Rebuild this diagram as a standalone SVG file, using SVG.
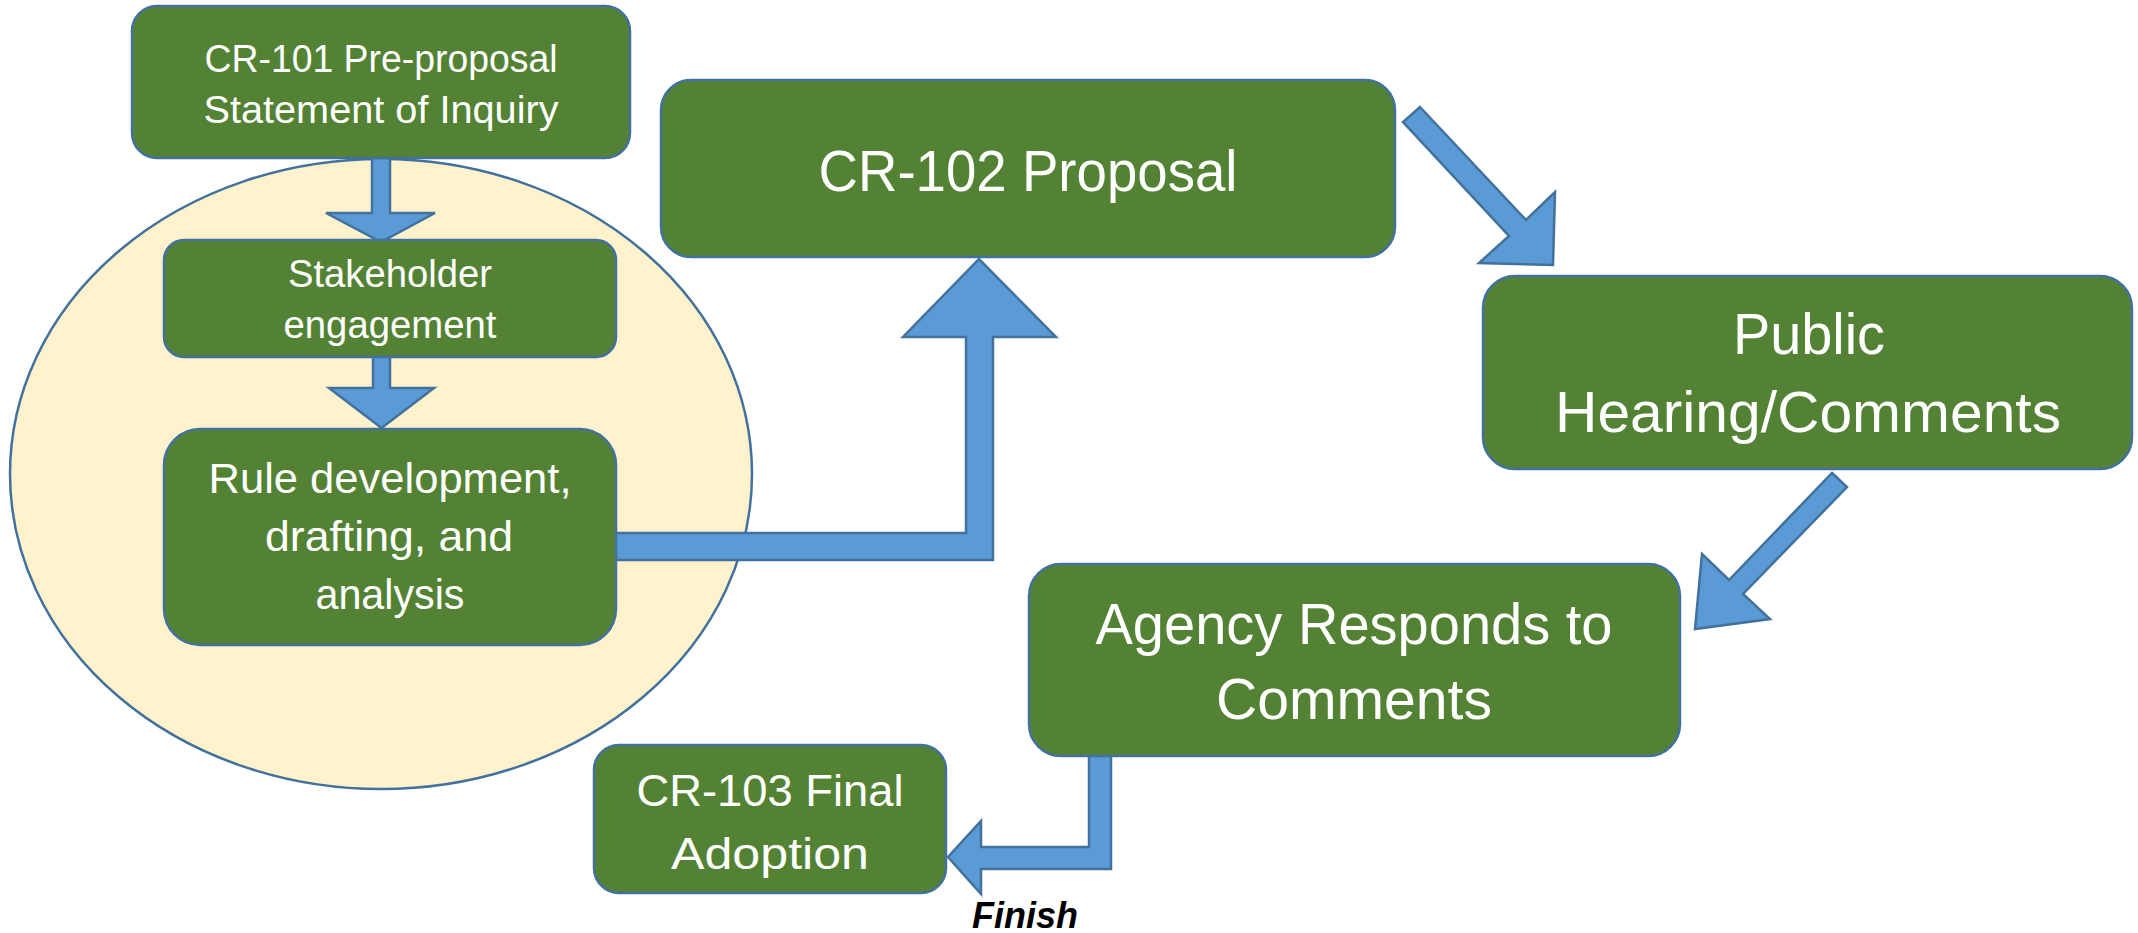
<svg xmlns="http://www.w3.org/2000/svg" width="2138" height="933" viewBox="0 0 2138 933">
<style>
.box{fill:#548235;stroke:#41719C;stroke-width:2.5}
.arr{fill:#5B9BD5;stroke:#41719C;stroke-width:2.5;stroke-linejoin:miter}
.t{fill:#ffffff;font-family:"Liberation Sans",Arial,sans-serif;text-anchor:middle}
.s{font-size:38px}
.m{font-size:43px}
.f{font-size:45px}
.l{font-size:57px}
.fin{fill:#000;font-family:"Liberation Sans",Arial,sans-serif;font-weight:bold;font-style:italic;font-size:37px;text-anchor:middle}
</style>
<rect width="2138" height="933" fill="#ffffff"/>
<g id="group-ellipse">
<ellipse cx="381" cy="474" rx="371" ry="315" fill="#FFF2CC" stroke="#41719C" stroke-width="2.5"/>
</g>
<g id="connectors">
<polygon class="arr" points="372,158 390,158 390,213 435,213 381,242 326,213 372,213"/>
<polygon class="arr" points="373,355 390,355 390,388 434,388 381.5,428 329,388 373,388"/>
<polygon class="arr" points="610,533 966,533 966,337 903,337 979,259 1056,337 993,337 993,560 610,560"/>
<polygon class="arr" points="1420,107 1526,220 1555,192 1553,265 1479,263 1509,236 1403,122"/>
<polygon class="arr" points="1832,473 1847,487 1743,594 1770,619 1695,629 1702,554 1729,580"/>
<polygon class="arr" points="1111,750 1111,869 981,869 981,894 948,857 981,821 981,847 1089,847 1089,750"/>
<text class="fin" x="1025" y="928" textLength="106" lengthAdjust="spacingAndGlyphs">Finish</text>
</g>
<g id="node-cr101">
<rect class="box" x="132" y="6" width="498" height="152" rx="25" ry="25"/>
<text class="t s" x="381" y="72" textLength="353" lengthAdjust="spacingAndGlyphs">CR-101 Pre-proposal</text>
<text class="t s" x="381" y="123" textLength="355" lengthAdjust="spacingAndGlyphs">Statement of Inquiry</text>
</g>
<g id="node-stakeholder">
<rect class="box" x="164" y="240" width="452" height="117" rx="20" ry="20"/>
<text class="t s" x="390" y="287" textLength="204" lengthAdjust="spacingAndGlyphs">Stakeholder</text>
<text class="t s" x="390" y="338" textLength="213" lengthAdjust="spacingAndGlyphs">engagement</text>
</g>
<g id="node-rule">
<rect class="box" x="164" y="429" width="452" height="216" rx="36" ry="36"/>
<text class="t m" x="390" y="493" textLength="363" lengthAdjust="spacingAndGlyphs">Rule development,</text>
<text class="t m" x="389" y="551" textLength="248" lengthAdjust="spacingAndGlyphs">drafting, and</text>
<text class="t m" x="390" y="609" textLength="149" lengthAdjust="spacingAndGlyphs">analysis</text>
</g>
<g id="node-cr102">
<rect class="box" x="661" y="80" width="734" height="177" rx="30" ry="30"/>
<text class="t l" x="1028" y="191" textLength="419" lengthAdjust="spacingAndGlyphs">CR-102 Proposal</text>
</g>
<g id="node-public">
<rect class="box" x="1483" y="276" width="649" height="193" rx="32" ry="32"/>
<text class="t l" x="1809" y="354" textLength="152" lengthAdjust="spacingAndGlyphs">Public</text>
<text class="t l" x="1808" y="432" textLength="506" lengthAdjust="spacingAndGlyphs">Hearing/Comments</text>
</g>
<g id="node-agency">
<rect class="box" x="1029" y="564" width="651" height="192" rx="32" ry="32"/>
<text class="t l" x="1354" y="644" textLength="517" lengthAdjust="spacingAndGlyphs">Agency Responds to</text>
<text class="t l" x="1354" y="719" textLength="276" lengthAdjust="spacingAndGlyphs">Comments</text>
</g>
<g id="node-cr103">
<rect class="box" x="594" y="745" width="352" height="148" rx="25" ry="25"/>
<text class="t f" x="770" y="806" textLength="267" lengthAdjust="spacingAndGlyphs">CR-103 Final</text>
<text class="t f" x="770" y="869" textLength="198" lengthAdjust="spacingAndGlyphs">Adoption</text>
</g>
</svg>
